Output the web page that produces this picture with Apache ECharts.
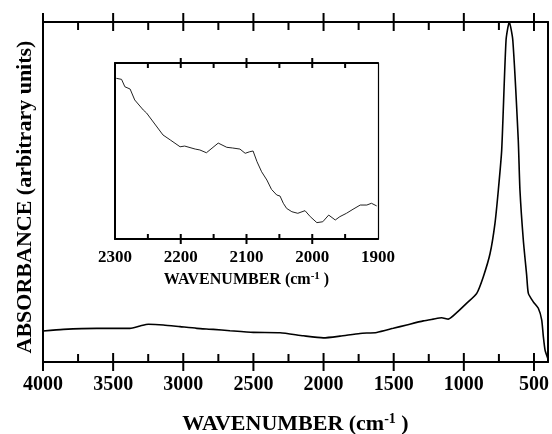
<html>
<head>
<meta charset='utf-8'>
<script src='https://cdn.jsdelivr.net/npm/echarts@6/dist/echarts.min.js'></script>
</head>
<body>
<style>
    html, body, #main { width: 100%; height: 100%; margin: 0; background: #fff; }
</style>
<div id='main'></div>
<script>

// main spectrum: wavenumber (cm-1) and absorbance (arbitrary units, 0..100)
var mainWn = [4000, 3855, 3617, 3380, 3308, 3249, 3142, 3023, 2904, 2786,
    2667, 2501, 2310, 2144, 2002, 1883, 1740, 1621, 1503, 1407,
    1289, 1218, 1158, 1111, 1051, 979, 908, 861, 813, 778,
    754, 730, 699, 676, 651, 612, 600, 576, 552, 540,
    505, 469, 445, 433, 421, 402];
var mainAbs = [9.1, 9.6, 9.9, 9.9, 10.6, 11.1, 10.9, 10.4, 9.9, 9.6,
    9.2, 8.7, 8.6, 7.7, 7.1, 7.6, 8.4, 8.7, 9.9, 10.9,
    12.1, 12.6, 13.0, 12.6, 14.5, 17.3, 20.2, 25.1, 31.9, 40.8,
    50.6, 62.4, 94.7, 100, 94.7, 65.3, 50.6, 35.9, 25.5, 20.2,
    17.7, 15.8, 12.4, 7.4, 3.5, 1.1];

// inset: 2300-1900 region
var insetWn = [2298, 2290, 2285, 2277, 2270, 2257, 2252, 2244, 2227, 2216,
    2201, 2194, 2178, 2171, 2161, 2143, 2130, 2121, 2110, 2102,
    2095, 2090, 2084, 2077, 2069, 2062, 2054, 2049, 2044, 2039,
    2031, 2022, 2011, 2003, 1993, 1984, 1975, 1965, 1958, 1948,
    1938, 1927, 1917, 1910, 1902];
var insetAbs = [91.3, 90.7, 86.5, 85.2, 79.0, 73.3, 71.6, 67.6, 59.1, 56.3,
    52.4, 52.8, 51.1, 50.6, 49.0, 54.5, 52.1, 51.7, 51.1, 48.7,
    49.6, 50.0, 43.9, 38.2, 33.5, 28.2, 25.0, 24.4, 20.3, 17.4,
    15.5, 14.6, 16.1, 12.7, 9.3, 9.8, 13.6, 10.8, 12.7, 14.6,
    16.9, 19.3, 19.3, 20.3, 18.8];

var mainMajor = [500, 1000, 1500, 2000, 2500, 3000, 3500, 4000];
var mainMinor = [750, 1250, 1750, 2250, 2750, 3250, 3750];
var insetMajor = [1900, 2000, 2100, 2200, 2300];
var insetMinor = [1950, 2050, 2150, 2250];

var Y_MIN = 0, Y_MAX = 100;
var FONT = '"Liberation Serif", "DejaVu Serif", serif';

function pairs(xs, ys) {
    var out = [];
    for (var i = 0; i < xs.length; i++) out.push([xs[i], ys[i]]);
    return out;
}

// tick data: [value, 1 = major / 0 = minor]
function tickData(major, minor, lo, hi) {
    var out = [];
    major.forEach(function (v) { if (v > lo && v <= hi) out.push([v, 1]); });
    minor.forEach(function (v) { out.push([v, 0]); });
    return out;
}

// draws the ticks on bottom and top edge of a grid (major ones cross the frame)
function tickRenderer(inLen, outLen, minorLen) {
    return function (params, api) {
        var v = api.value(0);
        var major = api.value(1) === 1;
        var b = api.coord([v, Y_MIN]);
        var t = api.coord([v, Y_MAX]);
        var li = major ? inLen : minorLen;
        var lo = major ? outLen : 0;
        var style = { stroke: '#000', lineWidth: 2 };
        return {
            type: 'group',
            children: [
                { type: 'line', shape: { x1: b[0], y1: b[1] - li, x2: b[0], y2: b[1] + lo }, style: style },
                { type: 'line', shape: { x1: t[0], y1: t[1] - lo, x2: t[0], y2: t[1] + li }, style: style }
            ]
        };
    };
}

function numLabel(v) { return String(v); }

var axisLine2 = { show: true, onZero: false, lineStyle: { color: '#000', width: 2 } };
var noTick = { show: false };

var xAxes = [{
    type: 'value', gridIndex: 0, position: 'bottom', inverse: true, min: 400, max: 4000,
    axisLine: axisLine2, axisTick: noTick, splitLine: { show: false },
    axisLabel: { customValues: mainMajor, formatter: numLabel, margin: 13,
        fontFamily: FONT, fontWeight: 'bold', fontSize: 20, color: '#000' },
    name: 'WAVENUMBER (cm{sup|-1} )', nameLocation: 'middle', nameGap: 50,
    nameTextStyle: { fontFamily: FONT, fontWeight: 'bold', fontSize: 22, color: '#000',
        rich: { sup: { fontFamily: FONT, fontWeight: 'bold', fontSize: 14, color: '#000',
            verticalAlign: 'top', padding: [0, 0, 10, 0] } } }
}, {
    type: 'value', gridIndex: 0, position: 'top', inverse: true, min: 400, max: 4000,
    axisLine: axisLine2, axisTick: noTick, axisLabel: { show: false }, splitLine: { show: false }
}, {
    type: 'value', gridIndex: 1, position: 'bottom', inverse: true, min: 1900, max: 2300,
    axisLine: axisLine2, axisTick: noTick, splitLine: { show: false },
    axisLabel: { customValues: insetMajor, formatter: numLabel, margin: 10,
        fontFamily: FONT, fontWeight: 'bold', fontSize: 17, color: '#000' },
    name: 'WAVENUMBER (cm{sup|-1} )', nameLocation: 'middle', nameGap: 32,
    nameTextStyle: { fontFamily: FONT, fontWeight: 'bold', fontSize: 16, color: '#000',
        rich: { sup: { fontFamily: FONT, fontWeight: 'bold', fontSize: 11, color: '#000',
            verticalAlign: 'top', padding: [0, 0, 7, 0] } } }
}, {
    type: 'value', gridIndex: 1, position: 'top', inverse: true, min: 1900, max: 2300,
    axisLine: axisLine2, axisTick: noTick, axisLabel: { show: false }, splitLine: { show: false }
}];

function frameY(grid, pos, width, extra) {
    var ax = {
        type: 'value', gridIndex: grid, position: pos, min: Y_MIN, max: Y_MAX,
        axisLine: { show: true, onZero: false, lineStyle: { color: '#000', width: width } },
        axisTick: { show: false }, axisLabel: { show: false }, splitLine: { show: false }
    };
    return Object.assign(ax, extra || {});
}

var yAxes = [
    frameY(0, 'left', 2, {
        name: 'ABSORBANCE (arbitrary units)', nameLocation: 'middle', nameGap: 7,
        nameTextStyle: { fontFamily: FONT, fontWeight: 'bold', fontSize: 22, color: '#000',
            padding: [0, 10, 0, 0] }
    }),
    frameY(0, 'right', 2),
    frameY(1, 'left', 2),
    frameY(1, 'right', 1.2)
];

var chart = echarts.init(document.getElementById('main'));

chart.setOption({
    backgroundColor: '#fff',
    animation: false,
    grid: [
        { left: 43, right: 4, top: 22, bottom: 72, outerBoundsMode: 'none' },
        { left: 115, right: 174, top: 63, bottom: 195, outerBoundsMode: 'none' }
    ],
    xAxis: xAxes,
    yAxis: yAxes,
    series: [{
        type: 'line',
        xAxisIndex: 0, yAxisIndex: 0,
        data: pairs(mainWn, mainAbs),
        showSymbol: false,
        smooth: 0.2,
        lineStyle: { color: '#000', width: 1.6 }
    }, {
        type: 'line',
        xAxisIndex: 2, yAxisIndex: 2,
        data: pairs(insetWn, insetAbs),
        showSymbol: false,
        lineStyle: { color: '#222', width: 1 }
    }, {
        type: 'custom',
        xAxisIndex: 0, yAxisIndex: 0,
        clip: false,
        silent: true,
        renderItem: tickRenderer(9, 9, 8),
        data: tickData(mainMajor, mainMinor, 400, 4000)
    }, {
        type: 'custom',
        xAxisIndex: 2, yAxisIndex: 2,
        clip: false,
        silent: true,
        renderItem: tickRenderer(5, 5, 5),
        data: tickData(insetMajor, insetMinor, 1900, 2299)
    }]
});

</script>
</body>
</html>
